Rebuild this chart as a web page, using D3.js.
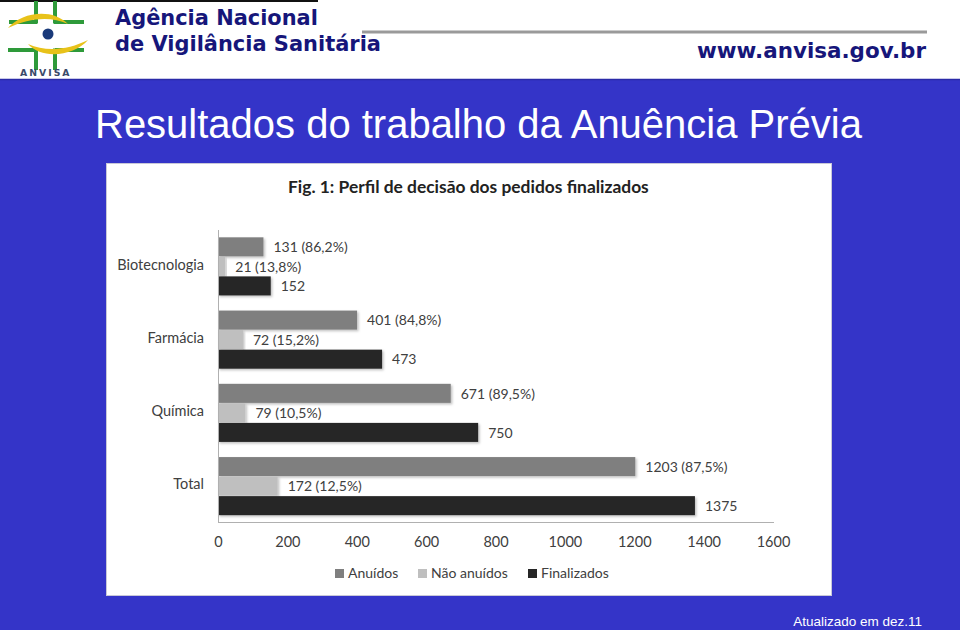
<!DOCTYPE html>
<html><head><meta charset="utf-8">
<script src="https://cdn.jsdelivr.net/npm/d3@7"></script>
<style>body{margin:0;padding:0;overflow:hidden;background:#fff}svg{display:block}</style>
</head><body>
<script>
// ---- DATA ----
const categories = ["Biotecnologia", "Farmácia", "Química", "Total"];
const seriesNames = ["Anuídos", "Não anuídos", "Finalizados"];
const anuidos = [131, 401, 671, 1203];
const naoAnuidos = [21, 72, 79, 172];
const finalizados = [152, 473, 750, 1375];
const anuidosPct = ["86,2%", "84,8%", "89,5%", "87,5%"];
const naoAnuidosPct = ["13,8%", "15,2%", "10,5%", "12,5%"];
const xTicks = [0, 200, 400, 600, 800, 1000, 1200, 1400, 1600];

const W = 960, H = 630;
const svg = d3.select("body").append("svg").attr("width", W).attr("height", H);

// backgrounds
svg.append("rect").attr("x",0).attr("y",0).attr("width",W).attr("height",80).attr("fill","#ffffff");
svg.append("rect").attr("x",0).attr("y",79).attr("width",W).attr("height",H-79).attr("fill","#3434c8");
svg.append("line").attr("x1",0).attr("x2",W).attr("y1",79.5).attr("y2",79.5).attr("stroke","#2a2aa8").attr("stroke-width",1.5);
svg.append("line").attr("x1",0).attr("x2",318).attr("y1",1).attr("y2",1).attr("stroke","#111").attr("stroke-width",2);
svg.append("line").attr("x1",362).attr("x2",927).attr("y1",32).attr("y2",32).attr("stroke","#9a9a9a").attr("stroke-width",3);

function fitText(sel, width){
  const node = sel.node();
  const fs = parseFloat(sel.attr("font-size"));
  const w = node.getComputedTextLength();
  if (w > 0) sel.attr("font-size", (fs*width/w).toFixed(2));
  return sel;
}

// logo
const logo = svg.append("g");
const green = "#2e9a3a";
const gl = [
  [36,1,36,23],[37.5,22,9,22],
  [55,1,55,23],[53.5,22,84,22],
  [36,50,8,50],[36,48.5,36,70],
  [55,50,84,50],[55,48.5,55,70]
];
gl.forEach(l=>logo.append("line").attr("x1",l[0]).attr("y1",l[1]).attr("x2",l[2]).attr("y2",l[3]).attr("stroke",green).attr("stroke-width",4));
logo.append("path").attr("d","M8,28 C22,12 52,8 68,24 C50,16 30,18 8,28 Z").attr("fill","#e8c21a");
logo.append("path").attr("d","M88,40 C74,56 42,60 28,44 C46,52 68,50 88,40 Z").attr("fill","#e8c21a");
logo.append("circle").attr("cx",48).attr("cy",34).attr("r",5.5).attr("fill","#1a3a7a");
fitText(logo.append("text").attr("x",20).attr("y",76).attr("font-family","DejaVu Sans").attr("font-weight","bold").attr("font-size",9).attr("fill","#3a4a6a").attr("letter-spacing",2).text("ANVISA"),52);

const navy = "#16167a";
fitText(svg.append("text").attr("x",115).attr("y",25).attr("font-family","DejaVu Sans").attr("font-weight","bold").attr("font-size",19).attr("fill",navy).text("Agência Nacional"),203);
fitText(svg.append("text").attr("x",115).attr("y",51).attr("font-family","DejaVu Sans").attr("font-weight","bold").attr("font-size",19).attr("fill",navy).text("de Vigilância Sanitária"),266);
fitText(svg.append("text").attr("x",697).attr("y",58).attr("font-family","DejaVu Sans").attr("font-weight","bold").attr("font-size",19).attr("fill",navy).text("www.anvisa.gov.br"),229);

// main title
fitText(svg.append("text").attr("x",95).attr("y",138).attr("font-family","Liberation Sans, Arial").attr("font-size",36).attr("fill","#ffffff").text("Resultados do trabalho da Anuência Prévia"),767);

// footer
svg.append("text").attr("x",922).attr("y",626).attr("text-anchor","end").attr("font-family","Liberation Sans, Arial").attr("font-size",13.5).attr("fill","#ffffff").text("Atualizado em dez.11");

// chart box
svg.append("rect").attr("x",106.5).attr("y",163.5).attr("width",725).attr("height",432).attr("fill","#ffffff").attr("stroke","#c8c8d8").attr("stroke-width",1);

const cf = "Lato, 'Open Sans', sans-serif";
const txt = "#404040";
fitText(svg.append("text").attr("x",288).attr("y",193).attr("font-family",cf).attr("font-weight","bold").attr("font-size",16).attr("fill","#222").text("Fig. 1: Perfil de decisão dos pedidos finalizados"),361);

const x = d3.scaleLinear().domain([0,1600]).range([218,773]);
const y0 = d3.scaleBand().domain(categories).range([230,523]).paddingInner(0.2).paddingOuter(0.1);
const y1 = d3.scaleBand().domain(seriesNames).range([0,y0.bandwidth()]);
const colors = d3.scaleOrdinal().domain(seriesNames).range(["#7f7f7f","#bfbfbf","#262626"]);

const values = [anuidos, naoAnuidos, finalizados];
const labels = [
  anuidos.map((v,i)=>`${v} (${anuidosPct[i]})`),
  naoAnuidos.map((v,i)=>`${v} (${naoAnuidosPct[i]})`),
  finalizados.map(v=>`${v}`)
];

const defs = svg.append("defs");
const f = defs.append("filter").attr("id","sh").attr("x","-5%").attr("y","-20%").attr("width","115%").attr("height","160%");
f.append("feDropShadow").attr("dx",1.5).attr("dy",1.5).attr("stdDeviation",1).attr("flood-color","#000").attr("flood-opacity",0.25);

categories.forEach((c,ci)=>{
  seriesNames.forEach((s,si)=>{
    const yy = y0(c) + y1(s);
    svg.append("rect").attr("x",x(0)).attr("y",yy).attr("width",x(values[si][ci])-x(0)).attr("height",y1.bandwidth()-0.5)
      .attr("fill",colors(s)).attr("filter","url(#sh)");
    svg.append("text").attr("x",x(values[si][ci])+10).attr("y",yy+y1.bandwidth()/2+5).attr("font-family",cf).attr("font-size",14).attr("fill",txt).text(labels[si][ci]);
  });
});

// axes lines
svg.append("line").attr("x1",218.5).attr("x2",218.5).attr("y1",230).attr("y2",523).attr("stroke","#b0b0b0");
svg.append("line").attr("x1",218).attr("x2",774).attr("y1",522.5).attr("y2",522.5).attr("stroke","#b0b0b0");

// category labels
const yAx = svg.append("g").attr("transform","translate(218,0)").call(d3.axisLeft(y0).tickSize(0).tickPadding(14));
yAx.select(".domain").remove();
yAx.selectAll("text").attr("font-family",cf).attr("font-size",14.5).attr("fill",txt).attr("dy","0.2em");

// x axis
const xAx = svg.append("g").attr("transform","translate(0,523)").call(d3.axisBottom(x).tickValues(xTicks).tickFormat(d3.format("d")).tickSize(0).tickPadding(14));
xAx.select(".domain").remove();
xAx.selectAll("text").attr("font-family",cf).attr("font-size",14.5).attr("fill",txt);

// legend
const legX = [335, 418, 528];
seriesNames.forEach((s,i)=>{
  svg.append("rect").attr("x",legX[i]).attr("y",569).attr("width",9).attr("height",9).attr("fill",colors(s));
  svg.append("text").attr("x",legX[i]+13).attr("y",578).attr("font-family",cf).attr("font-size",14).attr("fill",txt).text(s);
});
</script>
</body></html>
